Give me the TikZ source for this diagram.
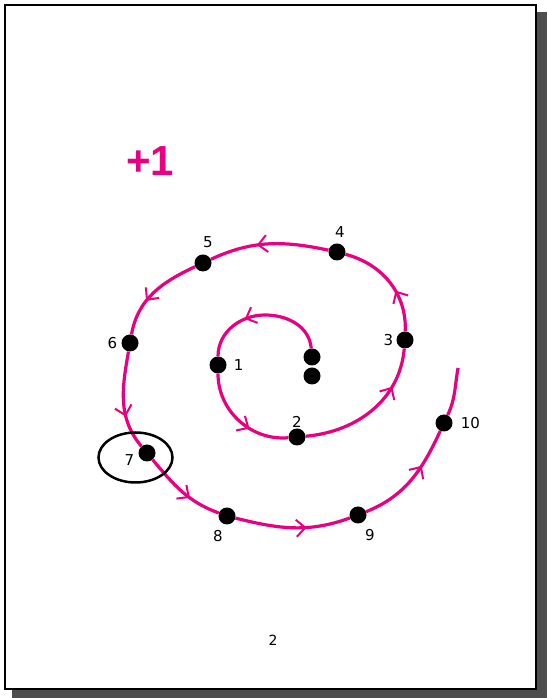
\documentclass[tikz,border=0pt]{standalone}
\usepackage{fontspec}
\setmainfont{DejaVu Sans}
\newfontfamily\plusfont{Liberation Sans}
\usetikzlibrary{arrows.meta,positioning,decorations.markings,shapes.geometric}
\definecolor{spiralpink}{RGB}{232,0,128}
\definecolor{shadowgray}{RGB}{78,78,78}

\begin{document}
\begin{tikzpicture}[
    x=1pt, y=1pt,
    font=\fontsize{15}{15}\selectfont,
    dot/.style={circle, fill=black, inner sep=0pt, minimum size=17pt},
    lbl/.style={inner sep=1pt},
    spiral/.style={spiralpink, line width=3.2pt},
    midarrow/.style={postaction={decorate}, decoration={markings,
        mark=at position #1 with {\arrow{Straight Barb[length=9pt, width=17pt, line width=2pt, color=spiralpink]}}}}
  ]
  % page and its shadow
  \fill[white] (0,0) rectangle (547,698);
  \fill[shadowgray] (12,0) rectangle (547,686);
  \draw[line width=2pt, fill=white] (5,9) rectangle (536,693);

  \node[text=spiralpink, font=\plusfont\bfseries\fontsize{42}{42}\selectfont] (plus) at (150,537) {+1};

  % points of the spiral
  \coordinate (s) at (312,341);
  \coordinate (top) at (265,383);
  \coordinate (e) at (458,330);
  \node[dot] (d0) at (312,322) {};
  \node[dot] (ds) at (s) {};
  \node[dot] (d1) at (218,333) {};
  \node[dot] (d2) at (297,261) {};
  \node[dot] (d3) at (405,358) {};
  \node[dot] (d4) at (337,446) {};
  \node[dot] (d5) at (203,435) {};
  \node[dot] (d6) at (130,355) {};
  \node[dot] (d7) at (147,245) {};
  \node[dot] (d8) at (227,182) {};
  \node[dot] (d9) at (358,183) {};
  \node[dot] (d10) at (444,275) {};

  \draw[spiral] (ds) to[out=95, in=0] (top);
  \draw[spiral, midarrow=0.3] (top) to[out=180, in=90] (d1);
  \draw[spiral, midarrow=0.62] (d1) to[out=-90, in=185] (d2);
  \draw[spiral, midarrow=0.72] (d2) to[out=5, in=-95] (d3);
  \draw[spiral, midarrow=0.4] (d3) to[out=88, in=-15] (d4);
  \draw[spiral, midarrow=0.6] (d4) to[out=168, in=25] (d5);
  \draw[spiral, midarrow=0.62] (d5) to[out=205, in=80] (d6);
  \draw[spiral, midarrow=0.66] (d6) to[out=-100, in=130] (d7);
  \draw[spiral, midarrow=0.62] (d7) to[out=-50, in=160] (d8);
  \draw[spiral, midarrow=0.62] (d8) to[out=-14, in=200] (d9);
  \draw[spiral, midarrow=0.65] (d9) to[out=22, in=245] (d10);
  \draw[spiral] (d10) to[out=65, in=-100] (e);

  \node[draw, ellipse, line width=2.5pt, minimum width=74pt, minimum height=50pt] (ring) at (135.5,240.5) {};

  % numbers
  \node[lbl, right=6pt of d1] (l1) {1};
  \node[lbl, above=0pt of d2] (l2) {2};
  \node[lbl, left=2pt of d3] (l3) {3};
  \node[lbl, above=5pt of d4, xshift=3pt] (l4) {4};
  \node[lbl, above=5pt of d5, xshift=5pt] (l5) {5};
  \node[lbl, left=3pt of d6] (l6) {6};
  \node[lbl, left=3pt of d7, yshift=-7pt] (l7) {7};
  \node[lbl, below=4pt of d8, xshift=-9pt] (l8) {8};
  \node[lbl, below=4pt of d9, xshift=12pt] (l9) {9};
  \node[lbl, right=7pt of d10] (l10) {10};

  \node[lbl, font=\fontsize{14}{14}\selectfont] (pagenum) at (273,58) {2};
\end{tikzpicture}
\end{document}
